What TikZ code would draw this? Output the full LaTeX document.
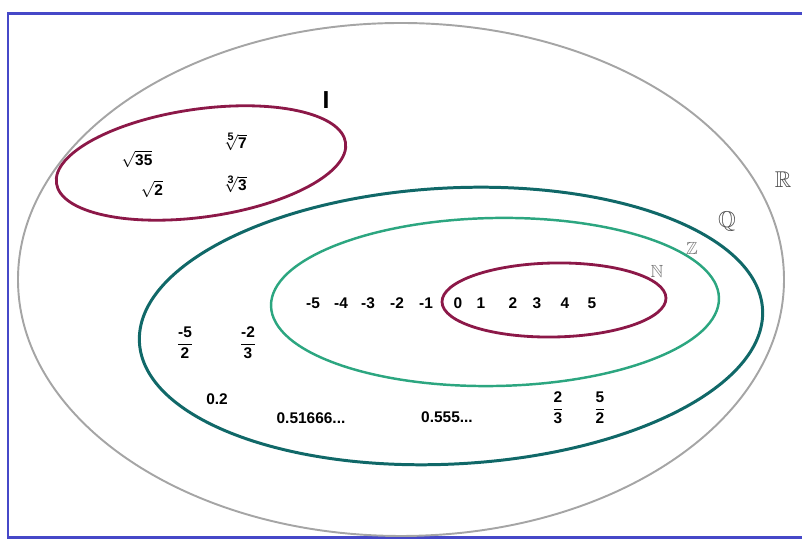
\documentclass[tikz,border=0pt]{standalone}
\usepackage{amsmath}
\usepackage{amssymb}
\usepackage{fontspec}
\setmainfont{Liberation Sans}
\definecolor{frameblue}{RGB}{70,72,200}
\definecolor{realgrey}{RGB}{165,165,165}
\definecolor{irrcrimson}{RGB}{140,24,72}
\definecolor{ratteal}{RGB}{16,104,104}
\definecolor{intgreen}{RGB}{44,166,128}
\tikzset{
  setreal/.style={draw=realgrey, line width=1.1pt},
  setirr/.style={draw=irrcrimson, line width=1.6pt},
  setrat/.style={draw=ratteal, line width=1.7pt},
  setint/.style={draw=intgreen, line width=1.4pt},
  setnat/.style={draw=irrcrimson, line width=1.6pt},
  elem/.style={font=\bfseries\fontsize{8.8}{10}\selectfont, inner sep=0.5pt},
  setname/.style={text=black!70, font=\fontsize{13}{15}\selectfont, inner sep=0pt},
  setnamesmall/.style={setname, text=black!55, font=\fontsize{10}{12}\selectfont}
}

\begin{document}
\begin{tikzpicture}[x=0.02cm, y=0.02cm]
  \useasboundingbox (0,0) rectangle (802,540);
  \draw[frameblue, line width=1.7pt] (802,526) -- (8,526) -- (8,2) -- (802,2);
  % the nested sets
  \draw[setreal] (401,260.5) ellipse [x radius=383, y radius=256.5];
  \draw[setirr, rotate around={8:(201,377)}] (201,377) ellipse [x radius=146, y radius=54];
  \draw[setrat, rotate around={3:(451,214)}] (451,214) ellipse [x radius=312, y radius=138];
  \draw[setint, rotate around={1:(495,238)}] (495,238) ellipse [x radius=224, y radius=84];
  \draw[setnat, rotate around={1:(554,240)}] (554,240) ellipse [x radius=112, y radius=37];
  % set names
  \node[elem, font=\bfseries\fontsize{14}{16}\selectfont] (lblI) at (326,440) {I};
  \node[setname] (lblR) at (783,360) {$\mathbb{R}$};
  \node[setname] (lblQ) at (727,318) {$\mathbb{Q}$};
  \node[setnamesmall] (lblZ) at (692,292) {$\mathbb{Z}$};
  \node[setnamesmall] (lblN) at (657,269) {$\mathbb{N}$};
  % irrationals
  \node[elem] (sq35) at (137,381) {$\sqrt{\text{35}}$};
  \node[elem] (rt57) at (235,398) {$\sqrt[\scriptstyle\text{5}]{\text{7}}$};
  \node[elem] (sq2)  at (152,351) {$\sqrt{\text{2}}$};
  \node[elem] (rt33) at (235,356) {$\sqrt[\scriptstyle\text{3}]{\text{3}}$};
  % integers and naturals
  \foreach \name/\xpos/\val in {m5/313/-5, m4/341/-4, m3/368/-3, m2/397/-2,
      m1/426/-1, p0/458/0, p1/481/1, p2/513/2, p3/537/3, p4/565/4, p5/592/5} {
    \node[elem] (int\name) at (\xpos,237) {\val};
  }
  % rationals
  \node[elem] (fmfivehalf) at (185,197) {$\dfrac{\text{-5}}{\text{2}}$};
  \node[elem] (fmtwothird) at (248,197) {$\dfrac{\text{-2}}{\text{3}}$};
  \node[elem] (dpointtwo)  at (217,141) {0.2};
  \node[elem] (drepone)    at (311,122) {0.51666...};
  \node[elem] (dreptwo)    at (447,123) {0.555...};
  \node[elem] (ftwothird)  at (558,132) {$\dfrac{\text{2}}{\text{3}}$};
  \node[elem] (ffivehalf)  at (600,132) {$\dfrac{\text{5}}{\text{2}}$};
\end{tikzpicture}
\end{document}
